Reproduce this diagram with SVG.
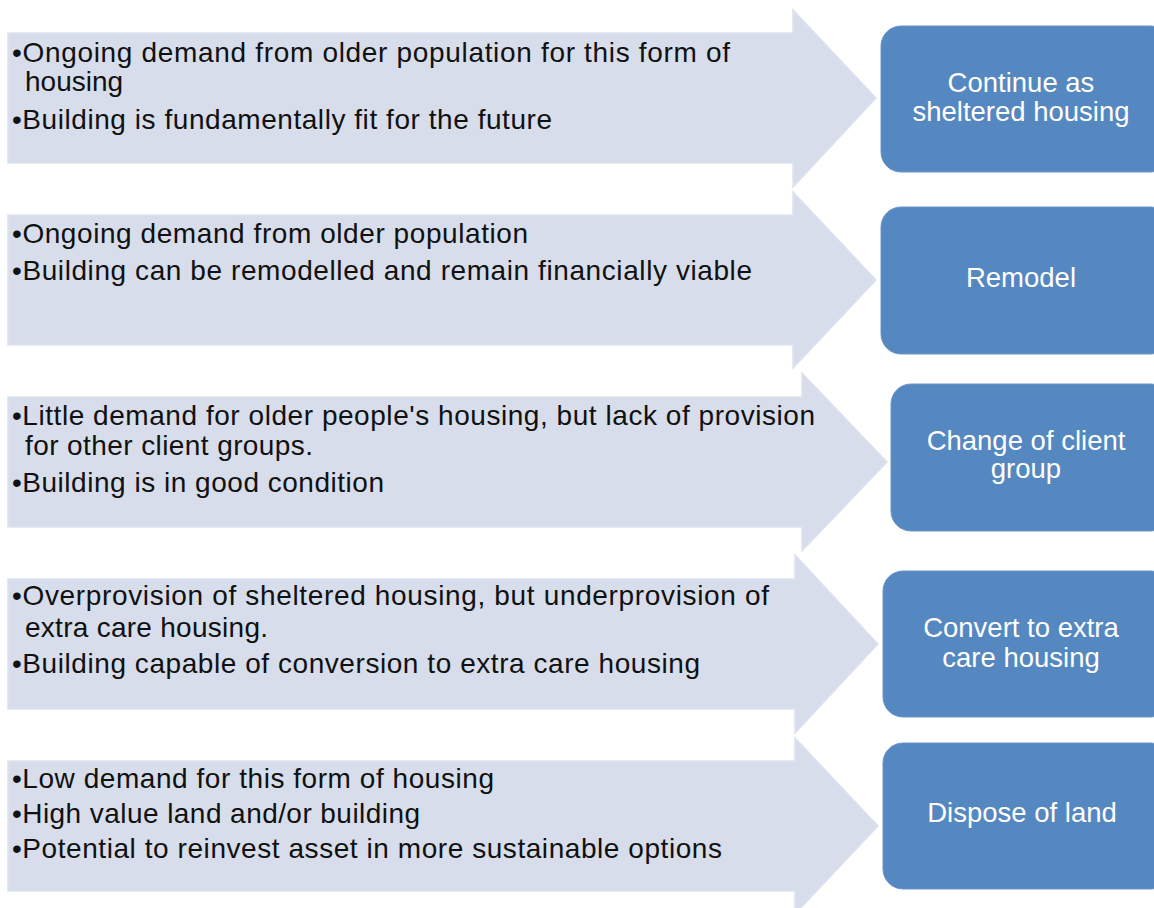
<svg xmlns="http://www.w3.org/2000/svg" width="1154" height="908" viewBox="0 0 1154 908">
<style>
.arr{fill:#d7ddea;stroke:#dde2ee;stroke-width:1.5}
.box{fill:#5587c0;stroke:#6a96c9;stroke-width:1}
.t{font-family:"Liberation Sans",Arial,sans-serif;font-size:28px;fill:#111}
.w{font-family:"Liberation Sans",Arial,sans-serif;font-size:27.5px;fill:#fff;text-anchor:middle}
</style>
<rect width="1154" height="908" fill="#fff"/>
<g id="arrows">
<g id="arrow1"><polygon class="arr" points="8,33 793,33 793,10 876,98 793,187 793,163 8,163"/>
<text class="t" x="12" y="62" textLength="718" lengthAdjust="spacing">•Ongoing demand from older population for this form of</text>
<text class="t" x="25" y="91">housing</text>
<text class="t" x="12" y="129" textLength="540" lengthAdjust="spacing">•Building is fundamentally fit for the future</text></g>
<g id="arrow2"><polygon class="arr" points="8,215 793,215 793,192 876,280 793,368 793,345 8,345"/>
<text class="t" x="12" y="243" textLength="516" lengthAdjust="spacing">•Ongoing demand from older population</text>
<text class="t" x="12" y="280" textLength="740" lengthAdjust="spacing">•Building can be remodelled and remain financially viable</text></g>
<g id="arrow3"><polygon class="arr" points="8,397 802,397 802,373 887,462 802,551 802,527 8,527"/>
<text class="t" x="12" y="425" textLength="803" lengthAdjust="spacing">•Little demand for older people's housing, but lack of provision</text>
<text class="t" x="25" y="455" textLength="288" lengthAdjust="spacing">for other client groups.</text>
<text class="t" x="12" y="492" textLength="372" lengthAdjust="spacing">•Building is in good condition</text></g>
<g id="arrow4"><polygon class="arr" points="8,579 795,579 795,555 878,644 795,733 795,709 8,709"/>
<text class="t" x="12" y="605" textLength="757" lengthAdjust="spacing">•Overprovision of sheltered housing, but underprovision of</text>
<text class="t" x="25" y="637" textLength="243" lengthAdjust="spacing">extra care housing.</text>
<text class="t" x="12" y="673" textLength="688" lengthAdjust="spacing">•Building capable of conversion to extra care housing</text></g>
<g id="arrow5"><polygon class="arr" points="8,761 795,761 795,738 878,826 795,914 795,891 8,891"/>
<text class="t" x="12" y="788" textLength="482" lengthAdjust="spacing">•Low demand for this form of housing</text>
<text class="t" x="12" y="823" textLength="408" lengthAdjust="spacing">•High value land and/or building</text>
<text class="t" x="12" y="858" textLength="710" lengthAdjust="spacing">•Potential to reinvest asset in more sustainable options</text></g>
</g>
<g id="box1"><rect class="box" x="881" y="26" width="290" height="146" rx="20"/>
<text class="w" x="1021" y="92">Continue as</text><text class="w" x="1021" y="121">sheltered housing</text></g>
<g id="box2"><rect class="box" x="881" y="207" width="290" height="147" rx="20"/>
<text class="w" x="1021" y="287">Remodel</text></g>
<g id="box3"><rect class="box" x="891" y="384" width="280" height="147" rx="20"/>
<text class="w" x="1026" y="450">Change of client</text><text class="w" x="1026" y="478">group</text></g>
<g id="box4"><rect class="box" x="883" y="571" width="288" height="146" rx="20"/>
<text class="w" x="1021" y="637">Convert to extra</text><text class="w" x="1021" y="667">care housing</text></g>
<g id="box5"><rect class="box" x="883" y="743" width="288" height="146" rx="20"/>
<text class="w" x="1022" y="822">Dispose of land</text></g>
</svg>
